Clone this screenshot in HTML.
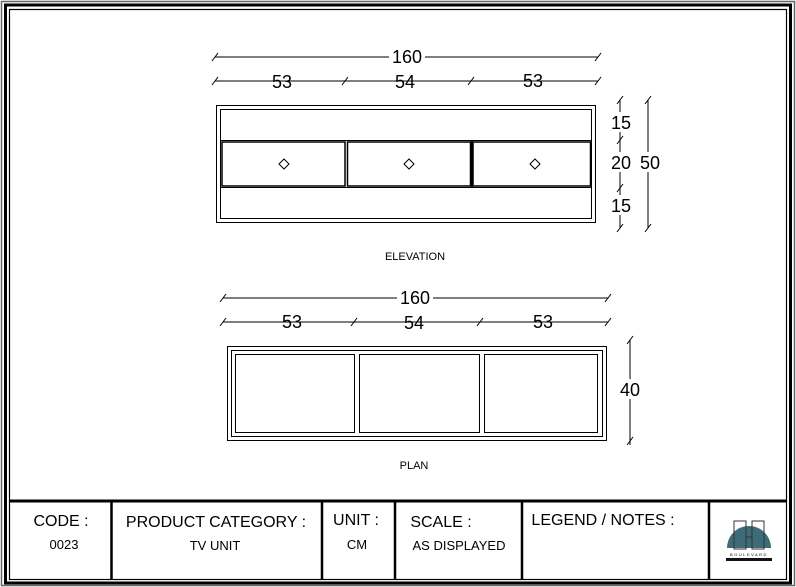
<!DOCTYPE html>
<html><head><style>
body{margin:0;background:#fff;}
svg{display:block;font-family:"Liberation Sans",sans-serif;}
</style></head><body>
<svg width="796" height="587" viewBox="0 0 796 587" xmlns="http://www.w3.org/2000/svg">
<g fill="none" stroke="#000">
<rect x="1.5" y="1.5" width="793" height="584" stroke="#666" stroke-width="1.5"/>
<rect x="5.5" y="5" width="785" height="578" stroke-width="3"/>
<rect x="9.5" y="9.5" width="777" height="570" stroke-width="1.2"/>
<line x1="9" y1="501" x2="787" y2="501" stroke-width="3"/>
<g stroke-width="2.5">
<line x1="111.5" y1="501" x2="111.5" y2="580"/>
<line x1="322" y1="501" x2="322" y2="580"/>
<line x1="395" y1="501" x2="395" y2="580"/>
<line x1="522" y1="501" x2="522" y2="580"/>
<line x1="709" y1="501" x2="709" y2="580"/>
</g>
</g>
<!-- elevation -->
<g fill="none" stroke="#000" stroke-width="1">
<line x1="215" y1="57" x2="598" y2="57"/>
<line x1="215" y1="81" x2="598" y2="81"/>
<g stroke-width="1">
<line x1="212" y1="61" x2="218" y2="53"/><line x1="595" y1="61" x2="601" y2="53"/>
<line x1="212" y1="85" x2="218" y2="77"/><line x1="342" y1="85" x2="348" y2="77"/>
<line x1="468" y1="85" x2="474" y2="77"/><line x1="595" y1="85" x2="601" y2="77"/>
</g>
<rect x="216.5" y="105.5" width="379" height="117"/>
<rect x="220.5" y="109.5" width="371" height="109"/>
<rect x="220.5" y="140.5" width="371" height="47"/>
<rect x="222" y="142" width="123" height="44" stroke-width="1.5"/>
<rect x="347.5" y="142" width="123" height="44" stroke-width="1.5"/>
<rect x="473" y="142" width="117.5" height="44" stroke-width="1.5"/>
<line x1="472" y1="141" x2="472" y2="187" stroke-width="2"/>
<path d="M284 159 L289 164 L284 169 L279 164 Z M409 159 L414 164 L409 169 L404 164 Z M535 159 L540 164 L535 169 L530 164 Z"/>
<line x1="620" y1="100" x2="620" y2="228"/>
<line x1="648" y1="100" x2="648" y2="228"/>
<line x1="617" y1="104" x2="623" y2="96"/><line x1="617" y1="144" x2="623" y2="136"/>
<line x1="617" y1="192" x2="623" y2="184"/><line x1="617" y1="232" x2="623" y2="224"/>
<line x1="645" y1="104" x2="651" y2="96"/><line x1="645" y1="232" x2="651" y2="224"/>
</g>
<g font-size="18" text-anchor="middle" fill="#000">
<rect x="389" y="46" width="36" height="20" fill="#fff"/>
<text x="407" y="63">160</text>
<text x="282" y="88">53</text><text x="405" y="88">54</text><text x="533" y="87">53</text>
<rect x="610" y="112" width="22" height="20" fill="#fff"/>
<rect x="610" y="152" width="22" height="20" fill="#fff"/>
<rect x="610" y="195" width="22" height="20" fill="#fff"/>
<rect x="638" y="152" width="22" height="20" fill="#fff"/>
<text x="621" y="129">15</text><text x="621" y="169">20</text><text x="621" y="212">15</text>
<text x="650" y="169">50</text>
</g>
<text x="415" y="260" font-size="11" text-anchor="middle">ELEVATION</text>
<!-- plan -->
<g fill="none" stroke="#000" stroke-width="1">
<line x1="223" y1="298" x2="608" y2="298"/>
<line x1="223" y1="322" x2="608" y2="322"/>
<line x1="220" y1="302" x2="226" y2="294"/><line x1="605" y1="302" x2="611" y2="294"/>
<line x1="220" y1="326" x2="226" y2="318"/><line x1="351" y1="326" x2="357" y2="318"/>
<line x1="477" y1="326" x2="483" y2="318"/><line x1="605" y1="326" x2="611" y2="318"/>
<rect x="227.5" y="346.5" width="379" height="94"/>
<rect x="231.5" y="350.5" width="371" height="86"/>
<rect x="235.5" y="354.5" width="119" height="78"/>
<rect x="359.5" y="354.5" width="120" height="78"/>
<rect x="484.5" y="354.5" width="113" height="78"/>
<line x1="630" y1="340" x2="630" y2="445"/>
<line x1="627" y1="344" x2="633" y2="336"/><line x1="627" y1="445" x2="633" y2="437"/>
</g>
<g font-size="18" text-anchor="middle" fill="#000">
<rect x="397" y="288" width="36" height="20" fill="#fff"/>
<text x="415" y="304">160</text>
<text x="292" y="328">53</text><text x="414" y="329">54</text><text x="543" y="328">53</text>
<rect x="619" y="379" width="22" height="20" fill="#fff"/>
<text x="630" y="396">40</text>
</g>
<text x="414" y="469" font-size="11" text-anchor="middle">PLAN</text>
<!-- title block -->
<g fill="#000" font-size="16" text-anchor="middle">
<text x="61" y="526">CODE :</text>
<text x="216" y="527">PRODUCT CATEGORY :</text>
<text x="356" y="525">UNIT :</text>
<text x="441" y="527">SCALE :</text>
<text x="603" y="525">LEGEND / NOTES :</text>
</g>
<g fill="#000" font-size="13" text-anchor="middle">
<text x="64" y="549">0023</text>
<text x="215" y="550">TV UNIT</text>
<text x="357" y="549">CM</text>
<text x="459" y="550">AS DISPLAYED</text>
</g>
<!-- logo -->
<path d="M727 548 A22 22 0 0 1 771 548 Z" fill="#3d6b78"/>
<g fill="none" stroke="#333" stroke-width="1">
<rect x="734" y="521" width="12" height="28"/>
<rect x="752" y="521" width="12" height="28"/>
<line x1="746" y1="537" x2="752" y2="537"/>
</g>
<text x="749" y="556" font-size="4" text-anchor="middle" letter-spacing="1.5">BOULEVARD</text>
<rect x="726" y="558" width="46" height="3" fill="#111"/>
</svg>
</body></html>
